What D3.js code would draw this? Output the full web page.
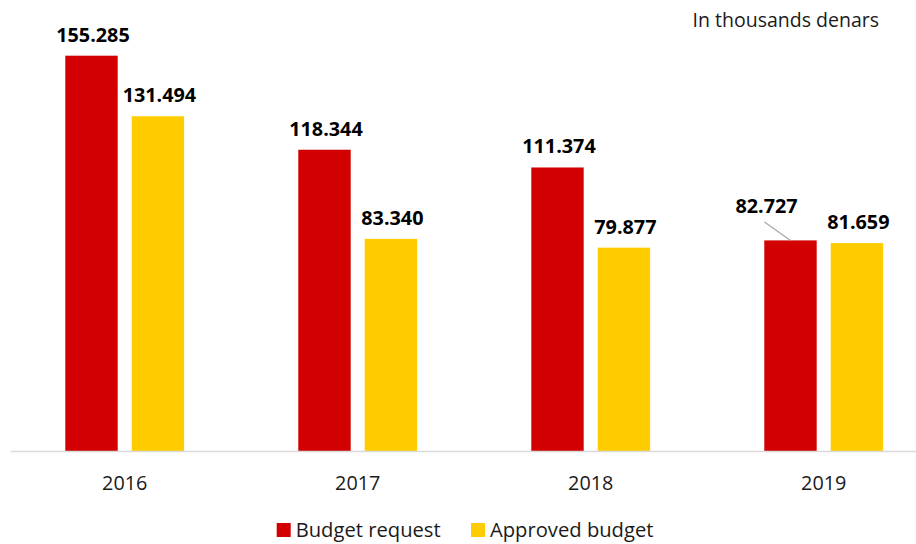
<!DOCTYPE html>
<html>
<head>
<meta charset="utf-8">
<script src="https://cdn.jsdelivr.net/npm/d3@7"></script>
<style>
  html, body { margin: 0; padding: 0; background: #ffffff; }
  svg { display: block; font-family: "Open Sans", "Noto Sans", sans-serif; }
</style>
</head>
<body>
<svg id="chart" width="916" height="544"></svg>
<script>
// Budget request vs. approved budget, in thousands of denars
const years = ["2016", "2017", "2018", "2019"];
const seriesNames = ["Budget request", "Approved budget"];
const budgetRequest = [155.285, 118.344, 111.374, 82.727];
const approvedBudget = [131.494, 83.340, 79.877, 81.659];
const seriesColors = ["#D20000", "#FFCC00"];
const unitNote = "In thousands denars";

const svg = d3.select("#chart");
const W = 916, H = 544;
const baseY = 451;

const rows = years.map((y, i) => ({
  year: y,
  values: [
    { key: seriesNames[0], value: budgetRequest[i] },
    { key: seriesNames[1], value: approvedBudget[i] }
  ]
}));

const x0 = d3.scaleBand()
  .domain(years)
  .range([8.2, 940.2])
  .paddingInner(0.49)
  .paddingOuter(0.245);

const x1 = d3.scaleBand()
  .domain(seriesNames)
  .range([0, x0.bandwidth()])
  .paddingInner(0.211)
  .paddingOuter(0);

const y = d3.scaleLinear()
  .domain([0, 160])
  .range([baseY, baseY - 160 * 2.5457]);

const color = d3.scaleOrdinal().domain(seriesNames).range(seriesColors);
const fmt = d3.format(".3f");

// bars
const groups = svg.append("g")
  .selectAll("g")
  .data(rows)
  .join("g")
  .attr("transform", d => `translate(${x0(d.year)},0)`);

groups.selectAll("rect")
  .data(d => d.values)
  .join("rect")
  .attr("x", d => x1(d.key))
  .attr("y", d => y(d.value))
  .attr("width", x1.bandwidth())
  .attr("height", d => baseY - y(d.value))
  .attr("fill", d => color(d.key));

// category axis (line only, no ticks)
const xAxis = d3.axisBottom(x0).tickSize(0).tickPadding(0);
const axisG = svg.append("g")
  .attr("transform", `translate(0,${baseY})`)
  .call(xAxis);
axisG.select(".domain").remove();
axisG.selectAll("text")
  .attr("dy", null)
  .attr("y", 39)
  .attr("font-family", '"Open Sans", "Noto Sans", sans-serif')
  .attr("font-size", 19.8)
  .attr("fill", "#1a1a1a");
svg.append("line")
  .attr("x1", 11).attr("x2", W)
  .attr("y1", baseY + 0.5).attr("y2", baseY + 0.5)
  .attr("stroke", "#d9d9d9")
  .attr("stroke-width", 1.3);

// value labels; the 2019 request label is pulled left with a leader line
groups.each(function (row) {
  const g = d3.select(this);
  row.values.forEach(v => {
    const cx = x1(v.key) + x1.bandwidth() / 2;
    const top = y(v.value);
    let lx = cx + 1.5, ly = top - 14;
    const moved = row.year === "2019" && v.key === seriesNames[0];
    if (moved) {
      lx = cx - 24;
      ly = top - 27.5;
      g.append("line")
        .attr("x1", cx - 26).attr("y1", ly + 9)
        .attr("x2", cx).attr("y2", top)
        .attr("stroke", "#a6a6a6")
        .attr("stroke-width", 1.2);
    }
    g.append("text")
      .attr("x", lx)
      .attr("y", ly)
      .attr("text-anchor", "middle")
      .attr("font-size", 19.8)
      .attr("font-weight", 700)
      .attr("fill", "#000000")
      .text(fmt(v.value));
  });
});

// unit note
svg.append("text")
  .attr("x", 879)
  .attr("y", 27)
  .attr("text-anchor", "end")
  .attr("font-size", 19.5)
  .attr("fill", "#1a1a1a")
  .text(unitNote);

// legend
const legendItems = [
  { name: seriesNames[0], x: 276.7 },
  { name: seriesNames[1], x: 471 }
];
const lg = svg.append("g")
  .selectAll("g")
  .data(legendItems)
  .join("g")
  .attr("transform", d => `translate(${d.x},523)`);
lg.append("rect")
  .attr("width", 14).attr("height", 14)
  .attr("fill", d => color(d.name));
lg.append("text")
  .attr("x", 19)
  .attr("y", 13.7)
  .attr("font-size", 20.2)
  .attr("fill", "#1a1a1a")
  .text(d => d.name);
</script>
</body>
</html>
